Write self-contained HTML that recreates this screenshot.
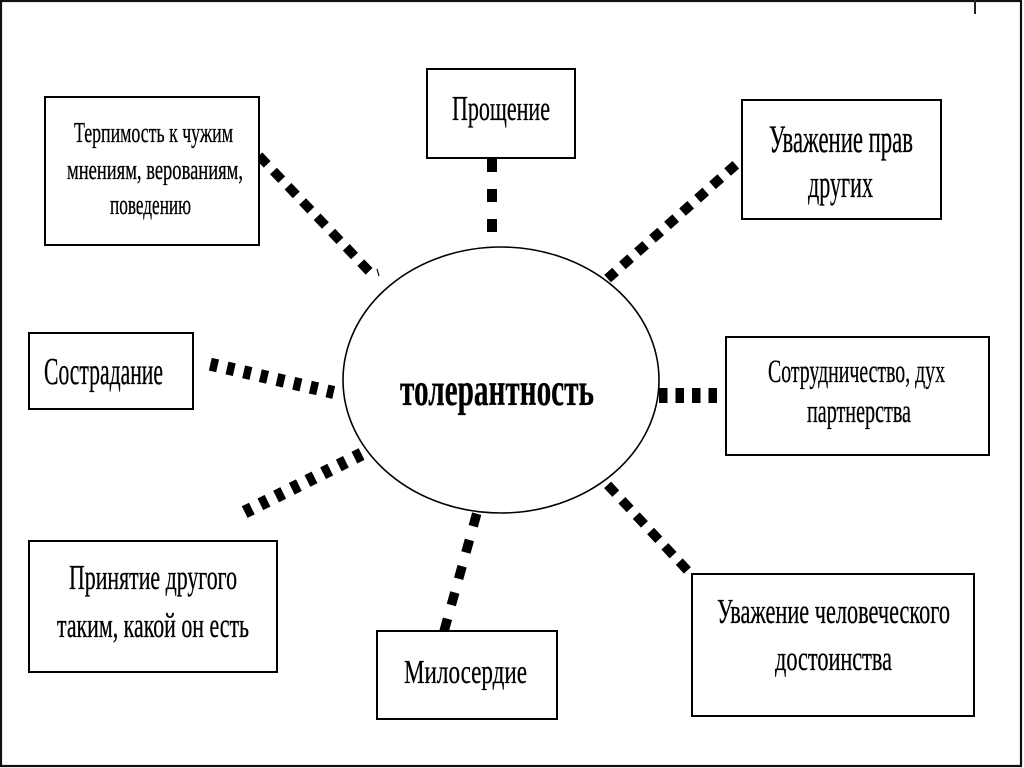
<!DOCTYPE html>
<html>
<head>
<meta charset="utf-8">
<style>
html,body{margin:0;padding:0;background:#fff;}
svg{display:block;}
text{font-family:"Liberation Serif","DejaVu Serif",serif;fill:#000;stroke:#000;stroke-width:0.3;}
</style>
</head>
<body>
<svg width="1024" height="768" viewBox="0 0 1024 768" xmlns="http://www.w3.org/2000/svg">
  <rect x="0" y="0" width="1024" height="768" fill="#fff"/>
  <!-- outer frame -->
  <rect x="1" y="1" width="1020" height="765" fill="none" stroke="#111" stroke-width="2.2"/>
  <line x1="975" y1="0" x2="975" y2="14" stroke="#222" stroke-width="2"/>

  <!-- ellipse -->
  <ellipse cx="501" cy="380" rx="158" ry="133" fill="#fff" stroke="#000" stroke-width="1.6"/>

  <!-- connectors -->
  <g stroke="#000" fill="none" stroke-linecap="butt">
    <line x1="258.9" y1="155.7" x2="369.1" y2="271.3" stroke-width="9.5" stroke-dasharray="12 9.1"/>
    <line x1="377" y1="269" x2="379" y2="276" stroke-width="1.2"/>
    <line x1="210.3" y1="364.2" x2="333.7" y2="392.5" stroke-width="13" stroke-dasharray="7.5 9.6"/>
    <line x1="492" y1="159" x2="492" y2="232" stroke-width="10" stroke-dasharray="13 17"/>
    <line x1="735.8" y1="164.7" x2="607.6" y2="278.6" stroke-width="10" stroke-dasharray="11 9.1"/>
    <line x1="659" y1="395.5" x2="717" y2="395.5" stroke-width="15" stroke-dasharray="8.5 8"/>
    <line x1="244.7" y1="512.1" x2="361.9" y2="453.9" stroke-width="13" stroke-dasharray="8 9.5"/>
    <line x1="476.7" y1="513.7" x2="444" y2="631.3" stroke-width="9.5" stroke-dasharray="13 14.25"/>
    <line x1="607.6" y1="484.9" x2="687.4" y2="570.4" stroke-width="9.5" stroke-dasharray="12 9"/>
  </g>

  <!-- boxes -->
  <g fill="#fff" stroke="#000" stroke-width="2">
    <rect x="45" y="97" width="214" height="148"/>
    <rect x="427" y="69" width="148" height="89"/>
    <rect x="742" y="100" width="199" height="119"/>
    <rect x="29" y="333" width="164" height="76"/>
    <rect x="726" y="337" width="263" height="118"/>
    <rect x="29" y="541" width="248" height="131"/>
    <rect x="377" y="631" width="180" height="88"/>
    <rect x="692" y="574" width="282" height="142"/>
  </g>

  <!-- labels -->
  <g>
    <text x="74" y="142" font-size="28" textLength="159" lengthAdjust="spacingAndGlyphs">Терпимость к чужим</text>
    <text x="67" y="179" font-size="28" textLength="176" lengthAdjust="spacingAndGlyphs">мнениям, верованиям,</text>
    <text x="110" y="214" font-size="28" textLength="81" lengthAdjust="spacingAndGlyphs">поведению</text>

    <text x="452" y="120" font-size="35" textLength="98" lengthAdjust="spacingAndGlyphs">Прощение</text>

    <text x="769" y="152" font-size="39" textLength="144" lengthAdjust="spacingAndGlyphs">Уважение прав</text>
    <text x="808" y="197" font-size="39" textLength="65" lengthAdjust="spacingAndGlyphs">других</text>

    <text x="44" y="384" font-size="38" textLength="119" lengthAdjust="spacingAndGlyphs">Сострадание</text>

    <text x="768" y="382" font-size="33" textLength="177" lengthAdjust="spacingAndGlyphs">Сотрудничество, дух</text>
    <text x="807" y="422" font-size="33" textLength="104" lengthAdjust="spacingAndGlyphs">партнерства</text>

    <text x="69" y="589" font-size="35" textLength="168" lengthAdjust="spacingAndGlyphs">Принятие другого</text>
    <text x="57" y="637" font-size="35" textLength="192" lengthAdjust="spacingAndGlyphs">таким, какой он есть</text>

    <text x="404" y="683" font-size="34" textLength="123" lengthAdjust="spacingAndGlyphs">Милосердие</text>

    <text x="717" y="623" font-size="35" textLength="233" lengthAdjust="spacingAndGlyphs">Уважение человеческого</text>
    <text x="775" y="670" font-size="35" textLength="117" lengthAdjust="spacingAndGlyphs">достоинства</text>

    <text x="400" y="405" font-size="47" font-weight="bold" textLength="194" lengthAdjust="spacingAndGlyphs">толерантность</text>
  </g>
</svg>
</body>
</html>
